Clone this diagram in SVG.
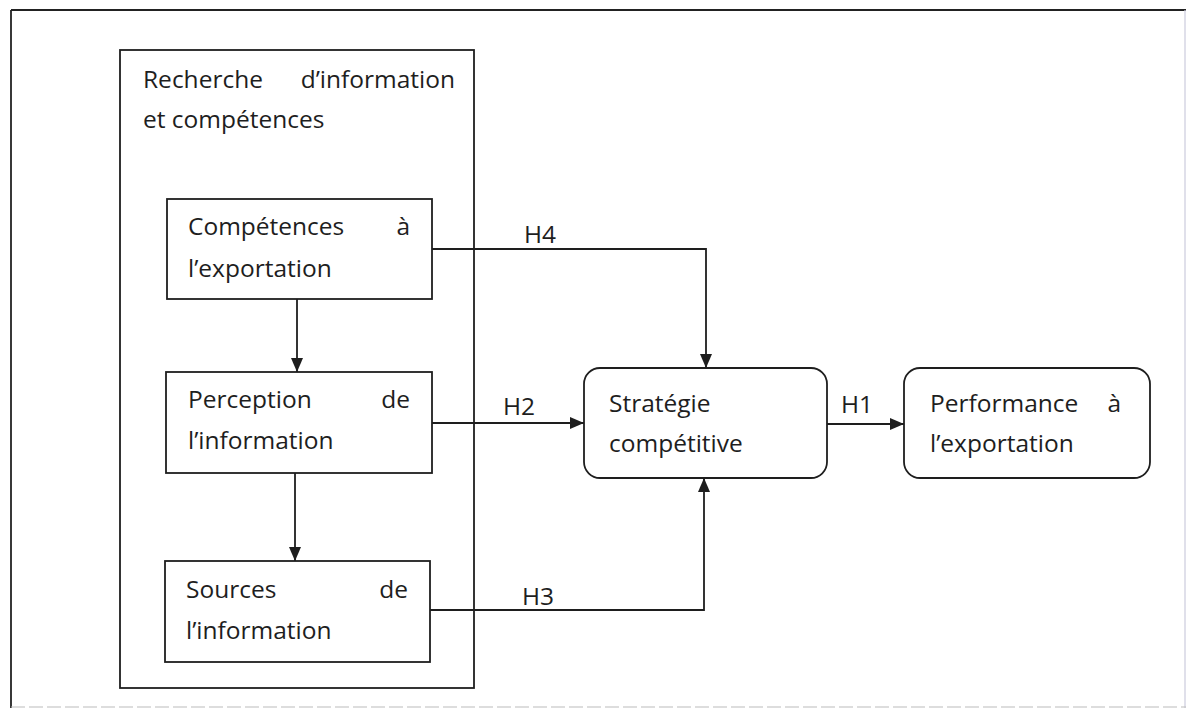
<svg xmlns="http://www.w3.org/2000/svg" width="1188" height="717" viewBox="0 0 1188 717">
<style>
.box{fill:#fff;stroke:#1e1e1e;stroke-width:1.8}
.t{font-family:"Open Sans","Liberation Sans",sans-serif;font-size:24.5px;fill:#1e1e1e}
.e{text-anchor:end}
.c{fill:none;stroke:#1e1e1e;stroke-width:1.8}
</style>
<defs>
<marker id="ah" viewBox="0 0 14 12" refX="14" refY="6" markerWidth="14" markerHeight="12" markerUnits="userSpaceOnUse" orient="auto">
<path d="M0,0 L14,6 L0,12 Z" fill="#1e1e1e"/>
</marker>
</defs>
<rect width="1188" height="717" fill="#fff"/>
<g id="frame">
<line x1="11" y1="10" x2="1186" y2="10" stroke="#222" stroke-width="2"/>
<line x1="11" y1="10" x2="11" y2="708" stroke="#222" stroke-width="1.8"/>
<line x1="1185" y1="10" x2="1185" y2="708" stroke="#ccd" stroke-width="1.2"/>
<line x1="11" y1="707" x2="1186" y2="707" stroke="#bbb" stroke-width="1.2" stroke-dasharray="14 4"/>
</g>
<g id="group-recherche">
<rect class="box" x="120" y="50" width="354" height="638"/>
<text class="t" x="143" y="88">Recherche</text>
<text class="t e" x="455" y="88">d’information</text>
<text class="t" x="143" y="128">et compétences</text>
</g>
<g id="node-competences">
<rect class="box" x="167" y="199" width="265" height="100"/>
<text class="t" x="188" y="235">Compétences</text>
<text class="t e" x="410" y="235">à</text>
<text class="t" x="188" y="277">l’exportation</text>
</g>
<g id="node-perception">
<rect class="box" x="166" y="372" width="266" height="101"/>
<text class="t" x="188" y="408">Perception</text>
<text class="t e" x="410" y="408">de</text>
<text class="t" x="188" y="449">l’information</text>
</g>
<g id="node-sources">
<rect class="box" x="165" y="561" width="265" height="101"/>
<text class="t" x="186" y="598">Sources</text>
<text class="t e" x="408" y="598">de</text>
<text class="t" x="186" y="639">l’information</text>
</g>
<g id="node-strategie">
<rect class="box" x="584" y="368" width="243" height="110" rx="16"/>
<text class="t" x="609" y="412">Stratégie</text>
<text class="t" x="609" y="452">compétitive</text>
</g>
<g id="node-performance">
<rect class="box" x="904" y="368" width="246" height="110" rx="16"/>
<text class="t" x="930" y="412">Performance</text>
<text class="t e" x="1121" y="412">à</text>
<text class="t" x="930" y="452">l’exportation</text>
</g>
<g id="connectors">
<path class="c" d="M297,299 L297,372" marker-end="url(#ah)"/>
<path class="c" d="M295,473 L295,561" marker-end="url(#ah)"/>
<path class="c" d="M432,249 L706,249 L706,368" marker-end="url(#ah)"/>
<path class="c" d="M432,423 L584,423" marker-end="url(#ah)"/>
<path class="c" d="M430,610 L704,610 L704,478" marker-end="url(#ah)"/>
<path class="c" d="M827,424 L904,424" marker-end="url(#ah)"/>
<text class="t" x="524" y="243">H4</text>
<text class="t" x="503" y="415">H2</text>
<text class="t" x="522" y="605">H3</text>
<text class="t" x="841" y="413">H1</text>
</g>
</svg>
